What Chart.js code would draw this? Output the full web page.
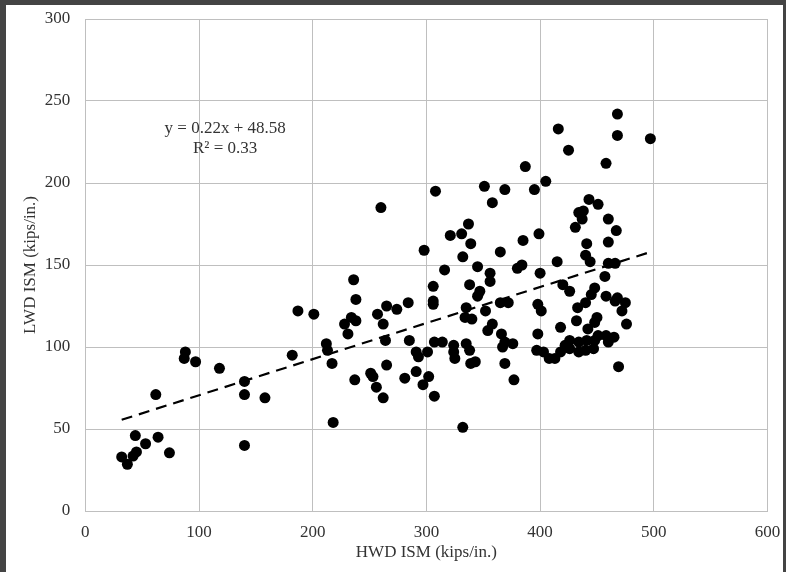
<!DOCTYPE html>
<html>
<head>
<meta charset="utf-8">
<script src="https://cdn.jsdelivr.net/npm/chart.js@4/dist/chart.umd.min.js"></script>
<style>
    html, body { margin: 0; padding: 0; }
    body { background: #444; width: 786px; height: 572px; overflow: hidden; }
    #wrap { position: absolute; left: 6px; top: 5px; width: 777px; height: 567px; background: #fff; }
</style>
</head>
<body>
<div id="wrap"><canvas id="chart" width="777" height="567"></canvas></div>
<script>
// HWD ISM (x) / LWD ISM (y), kips/in.
const hwd = [
    32, 37, 42, 45, 44, 53, 64, 74, 62,
    88, 87, 97, 118, 140, 140, 158, 140,
    182, 187, 201, 212, 213, 217, 218,
    236, 238, 228, 231, 234, 238, 237,
    251, 253, 256, 260, 257, 262, 265, 264, 265, 262,
    274, 284, 285, 281, 291, 293, 291, 297, 302, 301, 298,
    308, 306, 306, 306, 307, 307, 316, 321, 314, 324, 324, 325,
    331, 332, 337, 339, 338, 335, 334, 340, 335, 338, 339, 343, 332,
    345, 345, 347, 351, 358, 356, 356, 352, 358, 354,
    369, 365, 365, 372, 366, 369, 367, 369, 376, 377,
    380, 384, 385, 387, 395, 399, 400, 398, 401, 398, 397, 403, 405,
    408, 413, 418, 416, 415, 420, 418, 425, 426,
    431, 434, 437, 438, 441, 443, 440, 444, 440, 433, 432, 445, 448, 451,
    458, 460, 460, 457, 460, 466, 467, 468, 468, 497,
    458, 466, 468, 475, 472, 476, 469, 465, 460, 458,
    450, 448, 442,
    426, 434, 441, 448, 451, 426, 434, 440, 447, 422
];
const lwd = [
    33, 28.5, 33.5, 36, 46, 41, 45, 35.5, 71,
    97, 93, 91, 87, 79, 71, 69, 40,
    95, 122, 120, 102, 98, 90, 54,
    141, 129, 114, 108, 118, 116, 80,
    84, 82, 75.5, 185, 120, 114, 125, 104, 89, 69,
    123, 127, 104, 81, 97, 94, 85, 77, 82, 97, 159,
    195, 137, 128, 126, 103, 70, 147, 168, 103, 101, 97, 93,
    169, 155, 175, 163, 138, 124, 118, 117, 102, 98, 90, 91, 51,
    149, 131, 134, 198, 188, 145, 140, 122, 114, 110,
    196, 158, 127, 127, 108, 103, 100, 90, 102, 80,
    148, 150, 165, 210, 196, 169, 145, 126, 122, 108, 98, 97, 201,
    93, 93, 97, 233, 152, 138, 112, 220, 134,
    173, 182, 178, 183, 163, 190, 156, 152, 127, 124, 116, 132, 136, 187,
    212, 178, 164, 143, 151, 151, 171, 242, 229, 227,
    131, 128, 130, 127, 122, 114, 88, 106, 103, 107,
    118, 115, 111,
    104, 103, 104, 104, 107, 99, 97, 98, 99, 101
];
const xTicks = [0, 100, 200, 300, 400, 500, 600];
const yTicks = [0, 50, 100, 150, 200, 250, 300];

// linear trend shown on the chart
const slope = 0.22;
const intercept = 48.58;
const trendRange = [32, 497];
const trendLabel = ['y = 0.22x + 48.58', 'R\u00b2 = 0.33'];

const points = hwd.map((x, i) => ({ x: x, y: lwd[i] }));
const trend = trendRange.map(x => ({ x: x, y: slope * x + intercept }));

const serif = '"Liberation Serif", "DejaVu Serif", serif';
const textColor = '#333';
const gridColor = '#bfbfbf';

// equation text
const equationPlugin = {
    id: 'equation',
    afterDatasetsDraw(chart) {
        const ctx = chart.ctx;
        const xs = chart.scales.x, ys = chart.scales.y;
        ctx.save();
        ctx.font = '17px ' + serif;
        ctx.fillStyle = textColor;
        ctx.textAlign = 'center';
        ctx.textBaseline = 'middle';
        ctx.fillText(trendLabel[0], xs.getPixelForValue(123), ys.getPixelForValue(233.5));
        ctx.fillText(trendLabel[1], xs.getPixelForValue(123), ys.getPixelForValue(221.3));
        ctx.restore();
    }
};

new Chart(document.getElementById('chart'), {
    type: 'scatter',
    data: {
        datasets: [{
            label: 'Trend',
            data: trend,
            type: 'line',
            showLine: true,
            borderColor: '#000',
            borderWidth: 2.2,
            borderDash: [11, 7],
            pointRadius: 0,
            fill: false,
            order: 0
        }, {
            label: 'ISM',
            data: points,
            backgroundColor: '#000',
            borderWidth: 0,
            pointRadius: 5.5,
            pointHoverRadius: 5.5,
            order: 1
        }]
    },
    options: {
        responsive: false,
        animation: false,
        events: [],
        layout: { padding: { top: 14, right: 15.5, left: 0, bottom: 0 } },
        plugins: {
            legend: { display: false },
            tooltip: { enabled: false }
        },
        scales: {
            x: {
                type: 'linear',
                min: 0,
                max: 600,
                afterBuildTicks: s => { s.ticks = xTicks.map(v => ({ value: v })); },
                afterFit: s => { s.height = 61; s.paddingLeft = 0; s.paddingRight = 0; },
                grid: { color: gridColor, drawTicks: false },
                border: { color: gridColor },
                ticks: { padding: 11, color: textColor, font: { family: serif, size: 17 }, maxRotation: 0 },
                title: {
                    display: true,
                    text: 'HWD ISM (kips/in.)',
                    color: textColor,
                    font: { family: serif, size: 17 },
                    padding: { top: 0, bottom: 9 }
                }
            },
            y: {
                type: 'linear',
                min: 0,
                max: 300,
                afterBuildTicks: s => { s.ticks = yTicks.map(v => ({ value: v })); },
                afterFit: s => { s.width = 79.3; s.paddingTop = 0; s.paddingBottom = 0; },
                grid: { color: gridColor, drawTicks: false },
                border: { color: gridColor },
                ticks: { padding: 15, color: textColor, font: { family: serif, size: 17 } },
                title: {
                    display: true,
                    text: 'LWD ISM (kips/in.)',
                    color: textColor,
                    font: { family: serif, size: 17 },
                    padding: { top: 14, bottom: 0 }
                }
            }
        }
    },
    plugins: [equationPlugin]
});
</script>
</body>
</html>
